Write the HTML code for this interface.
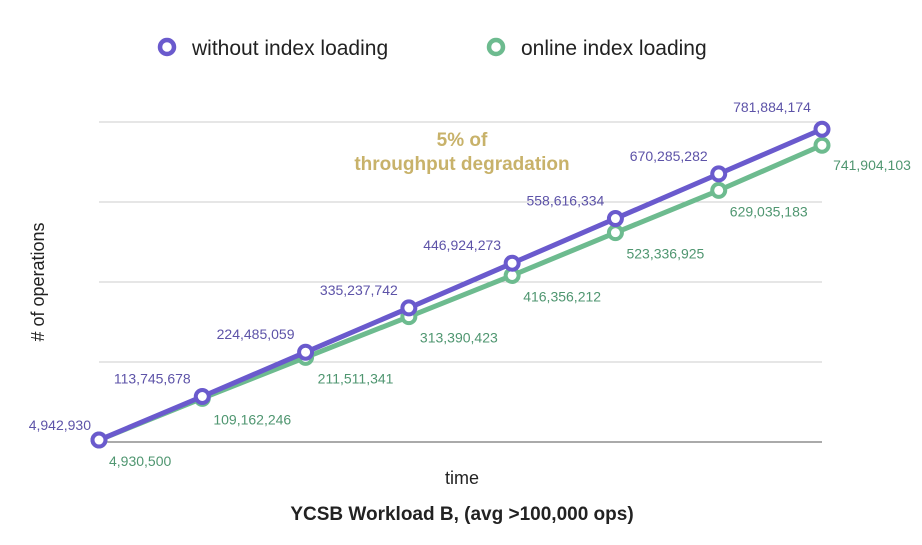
<!DOCTYPE html>
<html><head><meta charset="utf-8"><style>
body{margin:0;background:#fff}
svg{font-family:"Liberation Sans",sans-serif}
</style></head><body>
<svg width="922" height="540">
<g id="grid"></g><g id="lines"></g><g id="labels"></g>
<g>
<circle cx="167" cy="47" r="7" fill="#fff" stroke="#6a5acd" stroke-width="4.5"/>
<text x="192" y="55" font-size="21" fill="#222">without index loading</text>
<circle cx="496" cy="47" r="7" fill="#fff" stroke="#6dbb8f" stroke-width="4.5"/>
<text x="521" y="55" font-size="21" fill="#222">online index loading</text>
</g>
<text x="462" y="146" text-anchor="middle" font-size="19" font-weight="bold" fill="#c8b26a">5% of</text>
<text x="462" y="170" text-anchor="middle" font-size="19" font-weight="bold" fill="#c8b26a">throughput degradation</text>
<text x="462" y="484" text-anchor="middle" font-size="18" fill="#222">time</text>
<text x="462" y="520" text-anchor="middle" font-size="19" font-weight="bold" fill="#222">YCSB Workload B, (avg &gt;100,000 ops)</text>
<text transform="translate(44,282) rotate(-90)" text-anchor="middle" font-size="18" fill="#222"># of operations</text>
</svg>
<script>
const without=[4942930,113745678,224485059,335237742,446924273,558616334,670285282,781884174];
const online=[4930500,109162246,211511341,313390423,416356212,523336925,629035183,741904103];
const gridVals=[0,200000000,400000000,600000000,800000000];
const NS="http://www.w3.org/2000/svg";
const x=i=>99+i*(822-99)/7;
const y=v=>442-v*(320/800000000);
const fmt=v=>v.toLocaleString('en-US');
function mk(t,a,p){const e=document.createElementNS(NS,t);for(const k in a)e.setAttribute(k,a[k]);p.appendChild(e);return e;}
const G=document.getElementById('grid'),L=document.getElementById('lines'),T=document.getElementById('labels');
gridVals.forEach(v=>{const l=mk('line',{x1:99,x2:822,y1:y(v),y2:y(v),stroke:v===0?'#555':'#ccc','stroke-width':1},G);

});
function series(d,col,name){
 const p=mk('polyline',{points:d.map((v,i)=>x(i)+','+y(v)).join(' '),fill:'none',stroke:col,'stroke-width':5,'stroke-linejoin':'round'},L);
 
 
 d.forEach((v,i)=>{const c=mk('circle',{cx:x(i),cy:y(v),r:6.5,fill:'#fff',stroke:col,'stroke-width':4},L);
 
 });
}
series(online,'#6dbb8f','online');
series(without,'#6a5acd','without');
without.forEach((v,i)=>{let a=i===0?{x:x(i)-8,y:y(v)-10,anc:'end'}:{x:x(i)-50,y:y(v)-13,anc:'middle'};
 if(i===7)a={x:x(i)-50,y:y(v)-17,anc:'middle'};
 const t=mk('text',{x:a.x,y:a.y,'text-anchor':a.anc,'font-size':14,fill:'#5d53a8'},T);t.textContent=fmt(v);
 
 });
online.forEach((v,i)=>{const t=mk('text',{x:i===7?x(i)+50:x(i)+50,y:i===7?y(v)+25:y(v)+26,'text-anchor':'middle','font-size':14,fill:'#4f9670'},T);t.textContent=fmt(v);
 if(i===0){t.setAttribute('x',x(i)+10);t.setAttribute('text-anchor','start');}
 
 });
</script>
</body></html>
